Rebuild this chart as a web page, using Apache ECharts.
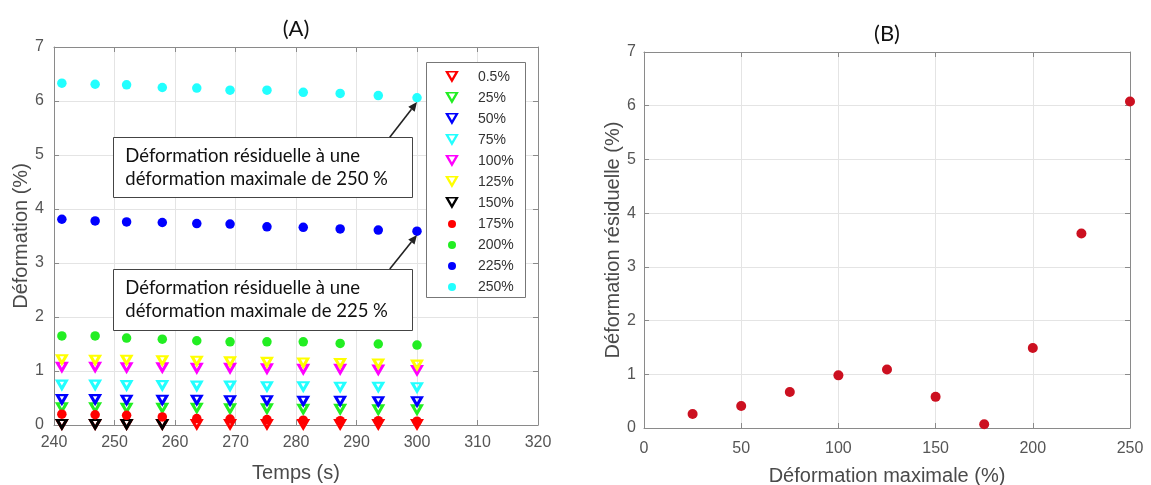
<!DOCTYPE html>
<html><head><meta charset="utf-8">
<script src="https://cdn.jsdelivr.net/npm/echarts@6/dist/echarts.min.js"></script>
<style>html,body{margin:0;padding:0;background:#fff}#c{width:1151px;height:485px}</style>
</head><body><div id="c"></div>
<script>
// ---------- DATA ----------
const times = [241.3, 246.8, 252.0, 257.9, 263.6, 269.1, 275.2, 281.2, 287.3, 293.6, 300.0];
const triNames = ['0.5%', '25%', '50%', '75%', '100%', '125%', '150%'];
const dotNames = ['175%', '200%', '225%', '250%'];
const s0_5 = [0, 0, 0, 0, 0, 0, 0, 0, 0, 0, 0];
const s25  = [0.31, 0.31, 0.30, 0.30, 0.30, 0.29, 0.29, 0.28, 0.28, 0.27, 0.27];
const s50  = [0.46, 0.46, 0.45, 0.45, 0.45, 0.44, 0.44, 0.43, 0.43, 0.42, 0.42];
const s75  = [0.73, 0.73, 0.72, 0.72, 0.71, 0.71, 0.70, 0.70, 0.69, 0.69, 0.68];
const s100 = [1.06, 1.06, 1.05, 1.05, 1.04, 1.04, 1.03, 1.02, 1.02, 1.01, 1.00];
const s125 = [1.20, 1.19, 1.19, 1.18, 1.17, 1.16, 1.15, 1.14, 1.13, 1.12, 1.10];
const s150 = [0, 0, 0, 0, null, null, null, null, null, null, null];
const s175 = [0.20, 0.19, 0.18, 0.15, 0.12, 0.11, 0.10, 0.09, 0.08, 0.08, 0.07];
const s200 = [1.65, 1.65, 1.61, 1.59, 1.56, 1.54, 1.54, 1.54, 1.51, 1.50, 1.48];
const s225 = [3.81, 3.78, 3.76, 3.75, 3.73, 3.72, 3.67, 3.66, 3.63, 3.61, 3.59];
const s250 = [6.33, 6.31, 6.30, 6.25, 6.24, 6.20, 6.20, 6.16, 6.14, 6.10, 6.06];
const maxStrain = [25, 50, 75, 100, 125, 150, 175, 200, 225, 250];
const residual  = [0.26, 0.41, 0.67, 0.98, 1.09, 0.58, 0.07, 1.49, 3.62, 6.08];
const axisA = {xMin: 240, xMax: 320, xStep: 10, yMin: 0, yMax: 7, yStep: 1};
const axisB = {xMin: 0, xMax: 250, xStep: 50, yMin: 0, yMax: 7, yStep: 1};
const notes = [
  {lines: ['Déformation résiduelle à une', 'déformation maximale de 250 %'], box: [249.8, 5.33, 299.2, 4.22], from: [295.5, 5.33], to: [300.0, 5.98]},
  {lines: ['Déformation résiduelle à une', 'déformation maximale de 225 %'], box: [249.8, 2.89, 299.2, 1.76], from: [295.5, 2.89], to: [300.0, 3.52]}
];

// ---------- STYLE ----------
const triColors = ['#ff0000', '#22ee22', '#0000ff', '#22ffff', '#ff00ff', '#ffff00', '#000000'];
const dotColors = ['#ff0000', '#22ee22', '#0000ff', '#22ffff'];
const triVals = [s0_5, s25, s50, s75, s100, s125, s150];
const dotVals = [s175, s200, s225, s250];
// downward triangle with a small hole (thick-edged MATLAB 'v' marker)
const TRI = 'path://M0,0L20,0L10,17.32Z M6.8,3L10,8.6L13.2,3Z';
const TRI_LEG = 'path://M0,0L20,0L10,17.32Z M5.2,2.2L10,10.5L14.8,2.2Z';
const FONT = 'Liberation Sans';
const axisColor = '#8a8a8a';
const gridColor = '#e4e4e4';

function pairs(xs, ys) { return xs.map((x, i) => ys[i] == null ? null : [x, ys[i]]).filter(d => d); }

function mkAxes(ax, gi, which, name, nameGap, labelMargin) {
  const isX = which === 'x';
  const main = {
    gridIndex: gi, type: 'value',
    min: isX ? ax.xMin : ax.yMin, max: isX ? ax.xMax : ax.yMax, interval: isX ? ax.xStep : ax.yStep,
    name: name, nameLocation: 'middle', nameGap: nameGap,
    nameTextStyle: {fontFamily: FONT, fontSize: 20, color: '#4a4a4a'},
    axisLine: {show: true, onZero: false, lineStyle: {color: axisColor, width: 1}},
    axisTick: {show: true, inside: true, length: 5, lineStyle: {color: axisColor}},
    axisLabel: {fontFamily: FONT, fontSize: 16, color: '#555', margin: labelMargin},
    splitLine: {show: true, lineStyle: {color: gridColor, width: 1}}
  };
  const opp = {
    gridIndex: gi, type: 'value', position: isX ? 'top' : 'right',
    min: main.min, max: main.max, interval: main.interval,
    axisLine: {show: true, onZero: false, lineStyle: {color: axisColor, width: 1}},
    axisTick: {show: true, inside: true, length: 5, lineStyle: {color: axisColor}},
    axisLabel: {show: false}, splitLine: {show: false}
  };
  return [main, opp];
}

const series = [];
triNames.forEach((n, i) => series.push({
  name: n, type: 'scatter', xAxisIndex: 0, yAxisIndex: 0,
  symbol: TRI, symbolSize: [14, 12.1], symbolKeepAspect: false,
  itemStyle: {color: triColors[i], opacity: 1},
  data: pairs(times, triVals[i]), z: 2 + i * 0.01, animation: false
}));
dotNames.forEach((n, i) => series.push({
  name: n, type: 'scatter', xAxisIndex: 0, yAxisIndex: 0,
  symbol: 'circle', symbolSize: 9.5,
  itemStyle: {color: dotColors[i], opacity: 1},
  data: pairs(times, dotVals[i]), z: 2.1 + i * 0.01, animation: false
}));
series.push({
  name: 'B', type: 'scatter', xAxisIndex: 2, yAxisIndex: 2,
  symbol: 'circle', symbolSize: 10,
  itemStyle: {color: '#cc1020', opacity: 1},
  data: pairs(maxStrain, residual), animation: false
});

const xA = mkAxes(axisA, 0, 'x', 'Temps (s)', 38, 10);
const yA = mkAxes(axisA, 0, 'y', 'Déformation (%)', 23, 10);
const xB = mkAxes(axisB, 1, 'x', 'Déformation maximale (%)', 38, 13);
const yB = mkAxes(axisB, 1, 'y', 'Déformation résiduelle (%)', 21, 8);

const legendBase = {
  orient: 'vertical', selectedMode: false,
  padding: 0, itemGap: 7,
  textStyle: {fontFamily: FONT, fontSize: 14, color: '#333', padding: [0, 0, 0, 14]}
};

const option = {
  animation: false,
  backgroundColor: '#ffffff',
  grid: [
    {left: 54, right: 613, top: 47, bottom: 60, show: true, borderColor: axisColor, borderWidth: 0, backgroundColor: '#fff',
      containLabel: false, outerBoundsMode: 'none'},
    {left: 644, right: 21, top: 52, bottom: 57, show: true, borderColor: axisColor, borderWidth: 0, backgroundColor: '#fff',
      containLabel: false, outerBoundsMode: 'none'}
  ],
  xAxis: [xA[0], xA[1], xB[0], xB[1]],
  yAxis: [yA[0], yA[1], yB[0], yB[1]],
  legend: [
    Object.assign({}, legendBase, {data: triNames.map(n => ({name: n, icon: TRI_LEG})), left: 445, top: 70, itemWidth: 14, itemHeight: 12}),
    Object.assign({}, legendBase, {data: dotNames, left: 448, top: 217, itemWidth: 8, itemHeight: 8,
      textStyle: Object.assign({}, legendBase.textStyle, {padding: [0, 0, 0, 17]})})
  ],
  series: series
};

const chart = echarts.init(document.getElementById('c'), null, {renderer: 'canvas'});
chart.setOption(option);

// ---------- ANNOTATIONS ----------
const P = (p) => chart.convertToPixel({gridIndex: 0}, p);
const Q = (p) => chart.convertToPixel({gridIndex: 1}, p);
const g = [];
// legend frame
g.push({type: 'rect', z: 3, shape: {x: 426.5, y: 62.5, width: 99, height: 235}, style: {fill: '#fff', stroke: '#777', lineWidth: 1}});
// titles
const tA = P([(axisA.xMin + axisA.xMax) / 2, axisA.yMax]);
const tB = Q([(axisB.xMin + axisB.xMax) / 2, axisB.yMax]);
g.push({type: 'text', z: 6, x: tA[0], y: tA[1] - 18, style: {text: '(A)', fontFamily: 'Lato', fontSize: 22, fill: '#111', align: 'center', verticalAlign: 'middle'}});
g.push({type: 'text', z: 6, x: tB[0], y: tB[1] - 18, style: {text: '(B)', fontFamily: 'Lato', fontSize: 22, fill: '#111', align: 'center', verticalAlign: 'middle'}});
notes.forEach(n => {
  const a = P([n.box[0], n.box[1]]), b = P([n.box[2], n.box[3]]);
  g.push({type: 'rect', z: 5, shape: {x: Math.round(a[0]) + 0.5, y: Math.round(a[1]) + 0.5, width: Math.round(b[0] - a[0]), height: Math.round(b[1] - a[1])},
    style: {fill: '#fff', stroke: '#444', lineWidth: 1}});
  n.lines.forEach((t, k) => g.push({type: 'text', z: 6, x: a[0] + 12, y: a[1] + 19 + k * 23,
    style: {text: t, fontFamily: 'Lato', fontSize: 18.5, fill: '#111', align: 'left', verticalAlign: 'middle'}}));
  const f = P(n.from), e = P(n.to);
  const dx = e[0] - f[0], dy = e[1] - f[1], L = Math.hypot(dx, dy), ux = dx / L, uy = dy / L;
  const hl = 9, hw = 4;
  const bx = e[0] - ux * hl, by = e[1] - uy * hl;
  g.push({type: 'line', z: 6, shape: {x1: f[0], y1: f[1], x2: bx, y2: by}, style: {stroke: '#222', lineWidth: 1.6}});
  g.push({type: 'polygon', z: 6, shape: {points: [[e[0], e[1]], [bx - uy * hw, by + ux * hw], [bx + uy * hw, by - ux * hw]]}, style: {fill: '#222'}});
});
chart.setOption({graphic: {elements: g}});
</script>
</body></html>
